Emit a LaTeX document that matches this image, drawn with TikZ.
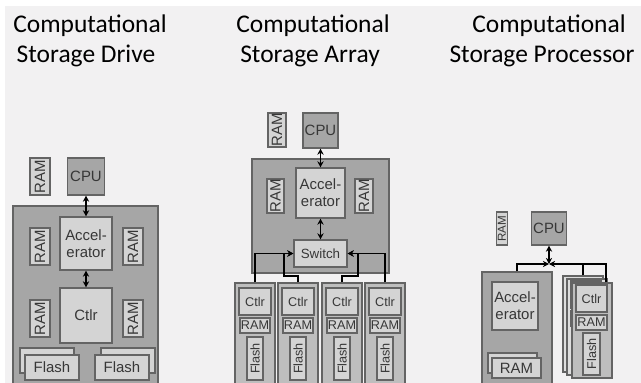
\documentclass[tikz,border=0pt]{standalone}
\usepackage{fontspec}
\setmainfont{Liberation Sans}
\newfontfamily\titlefont{Carlito}
\usetikzlibrary{arrows.meta}
\definecolor{bgcol}{RGB}{242,241,242}
\definecolor{shelfcol}{RGB}{166,166,166}
\definecolor{partcol}{RGB}{212,212,212}
\definecolor{slotcol}{RGB}{190,190,190}
\definecolor{backcol}{RGB}{222,222,222}
\definecolor{edgecol}{RGB}{100,100,100}
\definecolor{txtcol}{RGB}{55,55,55}
\tikzset{
  sz/.style 2 args={minimum width=#1*0.2mm, minimum height=#2*0.2mm},
  part/.style={draw=edgecol, fill=partcol, line width=0.6pt, inner sep=0pt,
    text=txtcol, align=center, font=\fontsize{8.5}{9.7}\selectfont},
  small/.style={font=\fontsize{7.2}{8}\selectfont},
  shelf/.style={part, fill=shelfcol},
  slot/.style={part, fill=slotcol},
  ghost/.style={part, fill=backcol},
  title/.style={anchor=base, inner sep=0pt, font=\titlefont\fontsize{14.5}{17.6}\selectfont},
  dbl/.style={{Stealth[length=3.5pt,width=3.5pt]}-{Stealth[length=3.5pt,width=3.5pt]}, line width=1.1pt},
  wire/.style={-{Stealth[length=3.5pt,width=3.5pt]}, line width=1.1pt}
}
\begin{document}
\begin{tikzpicture}[x=0.2mm,y=-0.2mm]
	\useasboundingbox (0,0) rectangle (641,383);
	\fill [white] (0,0) rectangle (641,383);
	\fill [bgcol] (5,6) rectangle (641,383);
	% titles
	\node [title] (t1a) at (90,32) {Computational};
	\node [title] (t1b) at (86,63) {Storage Drive};
	\node [title] (t2a) at (313,32) {Computational};
	\node [title] (t2b) at (310,63) {Storage Array};
	\node [title] (t3a) at (549,32) {Computational};
	\node [title] (t3b) at (542,63) {Storage Processor};
	% drive
	\node [shelf, sz={145}{182}] (dbox) at (85.5,297) {};
	\node [part, rotate=90, sz={37}{20}] (dram0) at (40,176.5) {RAM};
	\node [shelf, sz={37}{37}] (dcpu) at (86,176.5) {CPU};
	\node [part, sz={52}{53}] (dacc) at (86,243.5) {Accel-\\erator};
	\node [part, rotate=90, sz={37}{20}] (dram1) at (40,246.5) {RAM};
	\node [part, rotate=90, sz={37}{20}] (dram2) at (133,246.5) {RAM};
	\node [part, sz={52}{55}] (dctl) at (86,315.5) {Ctlr};
	\node [part, rotate=90, sz={37}{20}] (dram3) at (40,318.5) {RAM};
	\node [part, rotate=90, sz={37}{20}] (dram4) at (133,318.5) {RAM};
	\node [part, sz={54}{25}] (dfl1b) at (47,360.5) {};
	\node [part, sz={54}{25}] (dfl1) at (52,367.5) {Flash};
	\node [part, sz={54}{25}] (dfl2b) at (128,360.5) {};
	\node [part, sz={54}{25}] (dfl2) at (122,367.5) {Flash};
	\draw [dbl] (dcpu) -- (dacc);
	\draw [dbl] (dacc) -- (dctl);
	% array
	\node [shelf, sz={137}{114}] (abox) at (320.5,216) {};
	\node [part, rotate=90, sz={34}{18}] (aram0) at (277,130) {RAM};
	\node [shelf, sz={35}{35}] (acpu) at (320.5,130.5) {CPU};
	\node [part, sz={49}{50}] (aacc) at (320.5,193) {Accel-\\erator};
	\node [part, rotate=90, sz={34}{17}] (aram1) at (275.5,196) {RAM};
	\node [part, rotate=90, sz={34}{18}] (aram2) at (364,196) {RAM};
	\node [part, font=\fontsize{7.6}{8}\selectfont, sz={53}{27}] (asw) at (320.5,253.5) {Switch};
	\node [slot, sz={40}{107}] (acol1) at (255,336.5) {};
	\node [part, small, sz={32}{27}] (actl1) at (255,301.5) {Ctlr};
	\node [part, small, sz={30}{15}] (aram3) at (255,325.5) {RAM};
	\node [part, small, rotate=90, sz={43}{16}] (afl1) at (255,358.5) {Flash};
	\node [slot, sz={40}{107}] (acol2) at (298,336.5) {};
	\node [part, small, sz={32}{27}] (actl2) at (298,301.5) {Ctlr};
	\node [part, small, sz={30}{15}] (aram4) at (298,325.5) {RAM};
	\node [part, small, rotate=90, sz={43}{16}] (afl2) at (298,358.5) {Flash};
	\node [slot, sz={40}{107}] (acol3) at (342,336.5) {};
	\node [part, small, sz={32}{27}] (actl3) at (342,301.5) {Ctlr};
	\node [part, small, sz={30}{15}] (aram5) at (342,325.5) {RAM};
	\node [part, small, rotate=90, sz={43}{16}] (afl3) at (342,358.5) {Flash};
	\node [slot, sz={40}{107}] (acol4) at (385,336.5) {};
	\node [part, small, sz={32}{27}] (actl4) at (385,301.5) {Ctlr};
	\node [part, small, sz={30}{15}] (aram6) at (385,325.5) {RAM};
	\node [part, small, rotate=90, sz={43}{16}] (afl4) at (385,358.5) {Flash};
	\draw [dbl] (acpu) -- (aacc);
	\draw [dbl] (aacc) -- (asw);
	\coordinate (abend2) at (284,276);
	\coordinate (abend3) at (358,276);
	\draw [wire] (acol1.north) |- (asw.west);
	\draw [wire] (acol2.north) |- (abend2) |- (asw.west);
	\draw [wire] (acol3.north) |- (abend3) |- (asw.east);
	\draw [wire] (acol4.north) |- (asw.east);
	% processor
	\node [part, rotate=90, sz={33}{11}, font=\fontsize{6.6}{7}\selectfont] (pram0) at (502,228.5) {RAM};
	\node [shelf, sz={35}{33}] (pcpu) at (549,228.5) {CPU};
	\coordinate (pj) at (549,264);
	\node [shelf, sz={70}{118}] (pbox) at (517,331) {};
	\node [part, sz={46}{48}] (pacc) at (515,306) {Accel-\\erator};
	\node [part, sz={49}{20}] (pramb) at (512.5,363) {};
	\node [part, sz={49}{20}] (pram) at (516.5,368) {RAM};
	\node [ghost, sz={40}{96}] (pdrv3) at (583,324) {};
	\node [ghost, sz={40}{96}] (pdrv2) at (587,327) {};
	\node [part, sz={31}{27}] (pctl2) at (586,294.5) {};
	\node [part, sz={31}{15}] (pram2) at (586,318.5) {};
	\node [part, sz={17}{42}] (pfl2) at (586,350) {};
	\node [slot, sz={40}{95}] (pdrv1) at (592,330.5) {};
	\node [part, small, sz={31}{27}] (pctl1) at (591.5,298.5) {Ctlr};
	\node [part, small, sz={31}{15}] (pram1) at (591.5,322.5) {RAM};
	\node [part, small, rotate=90, sz={42}{17}] (pfl1) at (591.5,354) {Flash};
	\draw [dbl] (pcpu) -- (pj);
	\draw [wire] (pbox.north) |- (pj);
	\draw [wire] (pdrv1.north -| 606,0) |- (pj);
	\draw [line width=1.1pt] (pdrv3.north) -- (pdrv3.north |- pj);
\end{tikzpicture}
\end{document}
